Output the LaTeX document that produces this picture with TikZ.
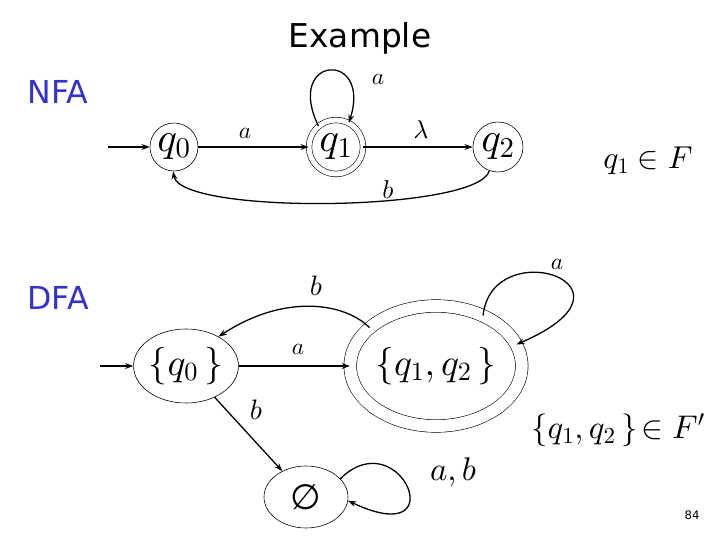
\documentclass[tikz,border=0pt]{standalone}
\usepackage{fontspec}
\usetikzlibrary{arrows.meta,shapes.geometric}
\DeclareFontShape{OML}{cmm}{m}{it}{<->cmmi10}{}
\DeclareFontShape{OMS}{cmsy}{m}{n}{<->cmsy10}{}
\DeclareFontShape{OT1}{cmr}{m}{n}{<->cmr10}{}
\newfontfamily\headfont{DejaVu Sans}
\definecolor{nfablue}{RGB}{51,51,204}
\begin{document}
\begin{tikzpicture}[x=0.03cm,y=-0.03cm,
  st/.style={draw,circle,line width=0.5pt,inner sep=0pt},
  ell/.style={draw,ellipse,line width=0.5pt,inner sep=0pt},
  arr/.style={line width=1.1pt,-{Stealth[length=7pt,width=5pt]}},
  lbl/.style={inner sep=0pt},
  qfont/.style={font=\fontsize{35}{37}\selectfont},
  dfont/.style={font=\fontsize{32}{34}\selectfont},
  head/.style={font=\headfont\fontsize{27}{30}\selectfont, text=nfablue}]
\useasboundingbox (0,0) rectangle (720,540);

% title and headings
\node (title) at (360,38) {\headfont\fontsize{28}{30}\selectfont Example};
\node[head] (nfa) at (58,92) {NFA};
\node[head] (dfa) at (58,298) {DFA};

% ---------- NFA ----------
\node[st,qfont,minimum size=1.44cm] (q0) at (174,147) {$q_0$};
\node[st,qfont,minimum size=1.62cm,double,double distance=0.15cm] (q1) at (336,147) {$q_1$};
\node[st,qfont,minimum size=1.5cm] (q2) at (498,147) {$q_2$};
\coordinate (s0) at (108,147);

\draw[arr] (s0) -- (q0);
\draw[arr] (q0) -- (q1);
\draw[arr] (q1) -- (q2);
\draw[arr] (q1.130) .. controls (284,55) and (372,50) .. (q1.62);
\draw[arr] (q2.250) .. controls (478,212) and (180,215) .. (q0.268);

\node[lbl,font=\fontsize{20}{22}\selectfont] (la1) at (245,133) {$a$};
\node[lbl,font=\fontsize{20}{22}\selectfont] (la2) at (378,79) {$a$};
\node[lbl,font=\fontsize{22}{24}\selectfont] (llam) at (421,130) {$\lambda$};
\node[lbl,font=\fontsize{22}{24}\selectfont] (lb1) at (388,190) {$b$};
\node[lbl,font=\fontsize{27}{29}\selectfont] (fin1) at (648,161) {$q_1\in F$};

% ---------- DFA ----------
\node[ell,dfont,minimum width=2.46cm,minimum height=2.22cm] (Q0) at (186,366) {$\{q_0\,\}$};
\node[ell,dfont,minimum width=3.78cm,minimum height=3.6cm,double,double distance=0.36cm] (Q12) at (436,366) {$\{q_1,q_2\,\}$};
\node[ell,minimum width=2.52cm,minimum height=1.86cm,font=\headfont\fontsize{30}{32}\selectfont] (E) at (306,497) {∅};
\coordinate (s1) at (100,366);

\draw[arr] (s1) -- (Q0);
\draw[arr] (Q0) -- (Q12);
\draw[arr] (Q12.150) .. controls (345,303) and (285,293) .. (Q0.42);
\draw[arr] (Q12.47) .. controls (492,232) and (655,285) .. (Q12.15);
\draw[arr] (Q0) -- (E);
\draw[arr] (E.28) .. controls (400,420) and (456,552) .. (E.-5);

\node[lbl,font=\fontsize{20}{22}\selectfont] (da) at (298,349) {$a$};
\node[lbl,font=\fontsize{24}{26}\selectfont] (db1) at (316,286) {$b$};
\node[lbl,font=\fontsize{20}{22}\selectfont] (da2) at (557,264) {$a$};
\node[lbl,font=\fontsize{24}{26}\selectfont] (db2) at (256,410) {$b$};
\node[lbl,font=\fontsize{28}{30}\selectfont] (dab) at (453,472) {$a,b$};
\node[lbl,font=\fontsize{28}{30}\selectfont] (fin2) at (618,430) {$\{q_1,q_2\,\}\!\in F'$};

\node[font=\headfont\fontsize{10}{12}\selectfont] (page) at (692,515) {84};
\end{tikzpicture}
\end{document}
